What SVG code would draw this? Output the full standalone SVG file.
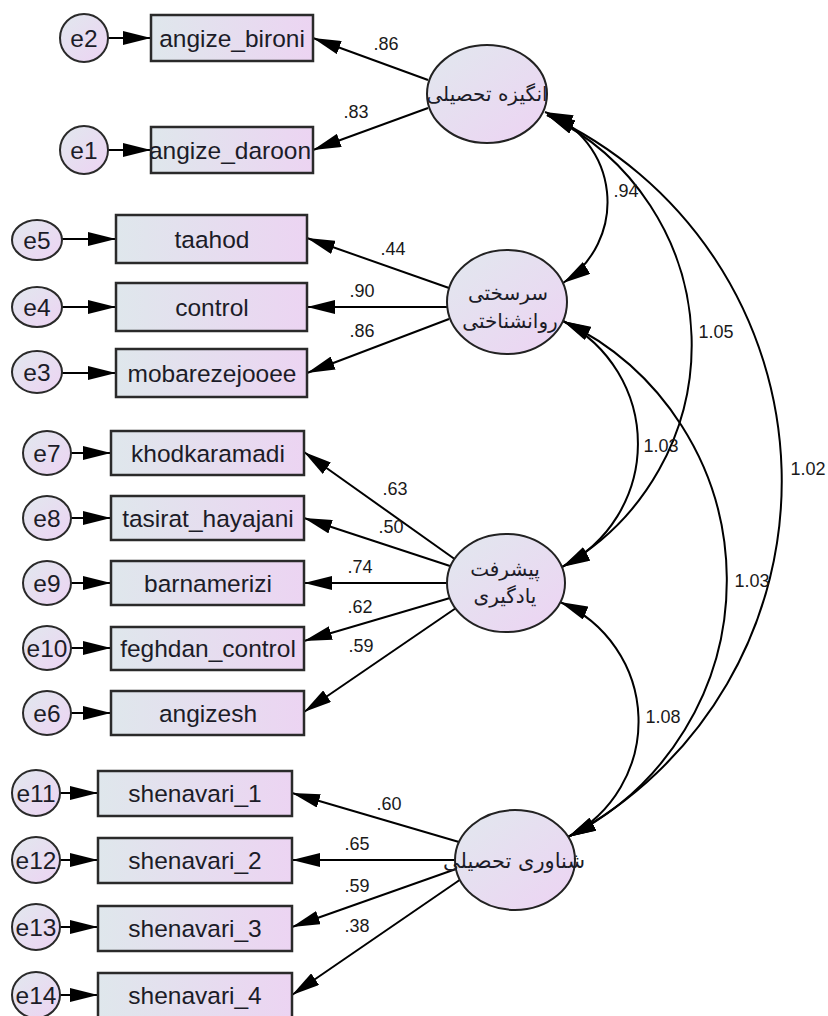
<svg xmlns="http://www.w3.org/2000/svg" width="828" height="1016" viewBox="0 0 828 1016">
<defs>
<linearGradient id="gr" x1="0" y1="0" x2="1" y2="0">
<stop offset="0" stop-color="#dfe7ec"/><stop offset="1" stop-color="#ecd4f2"/>
</linearGradient>
<linearGradient id="ge" x1="0" y1="0" x2="1" y2="1">
<stop offset="0" stop-color="#e1e8ee"/><stop offset="1" stop-color="#edd3f3"/>
</linearGradient>
<marker id="ah" viewBox="0 0 28 14" refX="28" refY="7" markerWidth="28" markerHeight="14" markerUnits="userSpaceOnUse" orient="auto-start-reverse">
<path d="M0,0 L28,7 L0,14 z" fill="#000"/>
</marker>
<style>
.box{fill:url(#gr);stroke:#2a2a2a;stroke-width:2.5}
.err{fill:url(#ge);stroke:#2a2a2a;stroke-width:2}
.lat{fill:url(#ge);stroke:#222;stroke-width:2}
.t{font-family:"Liberation Sans",Arial,sans-serif;font-size:24.5px;fill:#1c1c28;text-anchor:middle}
.fa{font-family:"DejaVu Sans","Noto Sans",sans-serif;font-size:20px;fill:#1c1c28;text-anchor:middle}
.lb{font-family:"Liberation Sans",Arial,sans-serif;font-size:18px;fill:#1a1a1a;text-anchor:middle}
.ln{stroke:#000;stroke-width:2;fill:none;marker-end:url(#ah)}
.cv{stroke:#000;stroke-width:2;fill:none;marker-start:url(#ah);marker-end:url(#ah)}
</style>
</defs>

<g id="connectors">
<line class="ln" x1="108" y1="38" x2="151" y2="38"/>
<line class="ln" x1="108" y1="150" x2="151" y2="150"/>
<line class="ln" x1="62" y1="239" x2="116" y2="239"/>
<line class="ln" x1="62" y1="307" x2="116" y2="307"/>
<line class="ln" x1="62" y1="373" x2="116" y2="373"/>
<line class="ln" x1="71" y1="453" x2="111" y2="453"/>
<line class="ln" x1="71" y1="518" x2="111" y2="518"/>
<line class="ln" x1="71" y1="583" x2="111" y2="583"/>
<line class="ln" x1="71" y1="648" x2="111" y2="648"/>
<line class="ln" x1="71" y1="713" x2="111" y2="713"/>
<line class="ln" x1="60" y1="793" x2="98" y2="793"/>
<line class="ln" x1="60" y1="860" x2="98" y2="860"/>
<line class="ln" x1="60" y1="927" x2="98" y2="927"/>
<line class="ln" x1="60" y1="995" x2="98" y2="995"/>
<line class="ln" x1="428" y1="80" x2="313" y2="38"/>
<line class="ln" x1="428" y1="108" x2="313" y2="150"/>
<line class="ln" x1="449" y1="288" x2="307" y2="238"/>
<line class="ln" x1="448" y1="307" x2="307" y2="307"/>
<line class="ln" x1="449" y1="319" x2="307" y2="373"/>
<line class="ln" x1="456" y1="560" x2="304" y2="452"/>
<line class="ln" x1="450" y1="566" x2="304" y2="518"/>
<line class="ln" x1="447" y1="583" x2="304" y2="583"/>
<line class="ln" x1="450" y1="598" x2="304" y2="641"/>
<line class="ln" x1="456" y1="608" x2="304" y2="712"/>
<line class="ln" x1="459" y1="842" x2="292" y2="793"/>
<line class="ln" x1="455" y1="860" x2="292" y2="860"/>
<line class="ln" x1="456" y1="869" x2="292" y2="927"/>
<line class="ln" x1="464" y1="877" x2="292" y2="995"/>
<path class="cv" d="M545,112 A96,96 0 0 1 563,283"/>
<path class="cv" d="M547,115 A255,255 0 0 1 562,567"/>
<path class="cv" d="M547,115 A403,403 0 0 1 568,837"/>
<path class="cv" d="M563,321 A138,138 0 0 1 562,567"/>
<path class="cv" d="M563,321 A287,287 0 0 1 568,837"/>
<path class="cv" d="M560,602 A130,130 0 0 1 568,837"/>
<text class="lb" x="386" y="50">.86</text>
<text class="lb" x="356" y="118">.83</text>
<text class="lb" x="393" y="255">.44</text>
<text class="lb" x="362" y="297">.90</text>
<text class="lb" x="362" y="337">.86</text>
<text class="lb" x="395" y="495">.63</text>
<text class="lb" x="391" y="533">.50</text>
<text class="lb" x="360" y="573">.74</text>
<text class="lb" x="360" y="613">.62</text>
<text class="lb" x="361" y="652">.59</text>
<text class="lb" x="389" y="810">.60</text>
<text class="lb" x="357" y="850">.65</text>
<text class="lb" x="357" y="892">.59</text>
<text class="lb" x="357" y="932">.38</text>
<text class="lb" x="626" y="197">.94</text>
<text class="lb" x="716" y="338">1.05</text>
<text class="lb" x="661" y="452">1.03</text>
<text class="lb" x="808" y="475">1.02</text>
<text class="lb" x="752" y="587">1.03</text>
<text class="lb" x="663" y="723">1.08</text>
</g>

<g id="lat1"><ellipse class="lat" cx="487" cy="94" rx="60" ry="49"/><text class="fa" x="487" y="101">انگیزه تحصیلی</text></g>
<g id="lat2"><ellipse class="lat" cx="507" cy="302" rx="60" ry="52"/><text class="fa" x="508" y="300">سرسختی</text><text class="fa" x="510" y="328">روانشناختی</text></g>
<g id="lat3"><ellipse class="lat" cx="506" cy="583" rx="59" ry="49"/><text class="fa" x="505" y="576">پیشرفت</text><text class="fa" x="505" y="603">یادگیری</text></g>
<g id="lat4"><ellipse class="lat" cx="515" cy="860" rx="60" ry="50"/><text class="fa" x="514" y="868" style="font-size:21px">شناوری تحصیلی</text></g>

<g id="n_angize_bironi"><rect class="box" x="151" y="15" width="162" height="46"/><text class="t" x="232" y="47">angize_bironi</text></g>
<g id="n_angize_daroon"><rect class="box" x="151" y="127" width="162" height="46"/><text class="t" x="230" y="159">angize_daroon</text></g>
<g id="n_taahod"><rect class="box" x="116" y="215" width="191" height="48"/><text class="t" x="212" y="248">taahod</text></g>
<g id="n_control"><rect class="box" x="116" y="283" width="191" height="48"/><text class="t" x="212" y="316">control</text></g>
<g id="n_mobarezejooee"><rect class="box" x="116" y="349" width="191" height="48"/><text class="t" x="212" y="382">mobarezejooee</text></g>
<g id="n_khodkaramadi"><rect class="box" x="111" y="431" width="193" height="44"/><text class="t" x="208" y="462">khodkaramadi</text></g>
<g id="n_tasirat_hayajani"><rect class="box" x="111" y="496" width="193" height="44"/><text class="t" x="208" y="527">tasirat_hayajani</text></g>
<g id="n_barnamerizi"><rect class="box" x="111" y="561" width="193" height="44"/><text class="t" x="208" y="592">barnamerizi</text></g>
<g id="n_feghdan_control"><rect class="box" x="111" y="627" width="193" height="43"/><text class="t" x="208" y="657">feghdan_control</text></g>
<g id="n_angizesh"><rect class="box" x="111" y="691" width="193" height="44"/><text class="t" x="208" y="722">angizesh</text></g>
<g id="n_shenavari_1"><rect class="box" x="98" y="771" width="194" height="45"/><text class="t" x="195" y="802">shenavari_1</text></g>
<g id="n_shenavari_2"><rect class="box" x="98" y="838" width="194" height="45"/><text class="t" x="195" y="869">shenavari_2</text></g>
<g id="n_shenavari_3"><rect class="box" x="98" y="906" width="194" height="45"/><text class="t" x="195" y="937">shenavari_3</text></g>
<g id="n_shenavari_4"><rect class="box" x="98" y="973" width="194" height="45"/><text class="t" x="195" y="1004">shenavari_4</text></g>

<g id="e2"><ellipse class="err" cx="84" cy="38" rx="24" ry="24"/><text class="t" x="84" y="47">e2</text></g>
<g id="e1"><ellipse class="err" cx="84" cy="150" rx="24" ry="24"/><text class="t" x="84" y="159">e1</text></g>
<g id="e5"><ellipse class="err" cx="37" cy="240" rx="25" ry="20"/><text class="t" x="37" y="249">e5</text></g>
<g id="e4"><ellipse class="err" cx="37" cy="307" rx="25" ry="20"/><text class="t" x="37" y="316">e4</text></g>
<g id="e3"><ellipse class="err" cx="37" cy="372" rx="25" ry="21"/><text class="t" x="37" y="381">e3</text></g>
<g id="e7"><ellipse class="err" cx="47" cy="453" rx="24" ry="22"/><text class="t" x="47" y="462">e7</text></g>
<g id="e8"><ellipse class="err" cx="47" cy="518" rx="24" ry="22"/><text class="t" x="47" y="527">e8</text></g>
<g id="e9"><ellipse class="err" cx="47" cy="583" rx="24" ry="22"/><text class="t" x="47" y="592">e9</text></g>
<g id="e10"><ellipse class="err" cx="47" cy="648" rx="24" ry="22"/><text class="t" x="47" y="657">e10</text></g>
<g id="e6"><ellipse class="err" cx="47" cy="713" rx="24" ry="22"/><text class="t" x="47" y="722">e6</text></g>
<g id="e11"><ellipse class="err" cx="36" cy="793" rx="24" ry="23"/><text class="t" x="36" y="802">e11</text></g>
<g id="e12"><ellipse class="err" cx="36" cy="860" rx="24" ry="23"/><text class="t" x="36" y="869">e12</text></g>
<g id="e13"><ellipse class="err" cx="36" cy="927" rx="24" ry="23"/><text class="t" x="36" y="936">e13</text></g>
<g id="e14"><ellipse class="err" cx="36" cy="995" rx="24" ry="23"/><text class="t" x="36" y="1004">e14</text></g>
</svg>
